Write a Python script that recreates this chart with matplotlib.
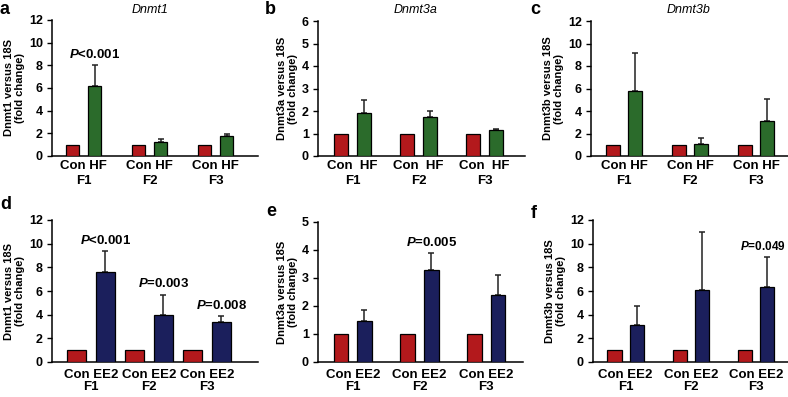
import numpy as np
import matplotlib
matplotlib.use("Agg")
import matplotlib.pyplot as plt

plt.rcParams['font.family'] = ['Liberation Sans', 'DejaVu Sans']
plt.rcParams['mathtext.fontset'] = 'custom'
plt.rcParams['mathtext.bfit'] = 'Liberation Sans:italic:bold'
plt.rcParams['mathtext.it'] = 'Liberation Sans:italic:bold'

# ---- data ----
generations = ['F1', 'F2', 'F3']

hf_con = [1, 1, 1]
hf_dnmt1 = [6.2, 1.25, 1.75]
hf_dnmt1_err = [1.8, 0.25, 0.2]
hf_dnmt3a = [1.9, 1.75, 1.15]
hf_dnmt3a_err = [0.6, 0.25, 0.03]
hf_dnmt3b = [5.8, 1.1, 3.1]
hf_dnmt3b_err = [3.4, 0.5, 2.0]

ee2_con = [1, 1, 1]
ee2_dnmt1 = [7.6, 4.0, 3.35]
ee2_dnmt1_err = [1.8, 1.7, 0.5]
ee2_dnmt3a = [1.45, 3.3, 2.4]
ee2_dnmt3a_err = [0.4, 0.6, 0.7]
ee2_dnmt3b = [3.1, 6.05, 6.3]
ee2_dnmt3b_err = [1.65, 4.95, 2.55]

pvals_a = ['<0.001', None, None]
pvals_d = ['<0.001', '=0.003', '=0.008']
pvals_e = [None, '=0.005', None]
pvals_f = [None, None, '=0.049']

RED = '#b3191c'
GREEN = '#2b6b2b'
NAVY = '#1b1f5c'

W, H = 788, 397
fig = plt.figure(figsize=(W / 100, H / 100), dpi=100)


def px_axes(left, right, top, bottom):
    return fig.add_axes([left / W, 1 - bottom / H, (right - left) / W, (bottom - top) / H])


panels = [
    # letter, gene, x label, vals, err, colour, ymax, ystep, rect, xlim, bar w, offset, pvals, row, letter pos
    ('a', 'Dnmt1', 'Con HF', hf_dnmt1, hf_dnmt1_err, GREEN, 12, 2, (52, 258, 20, 156), (-0.48, 2.64), 0.2, 0.167, pvals_a, 0, (0, 10)),
    ('b', 'Dnmt3a', 'Con  HF', hf_dnmt3a, hf_dnmt3a_err, GREEN, 6, 1, (318, 525, 21, 156), (-0.52, 2.61), 0.21, 0.175, None, 0, (265, 10)),
    ('c', 'Dnmt3b', 'Con HF', hf_dnmt3b, hf_dnmt3b_err, GREEN, 12, 2, (591, 788, 21, 156), (-0.5, 2.48), 0.21, 0.167, None, 0, (530, 10)),
    ('d', 'Dnmt1', 'Con EE2', ee2_dnmt1, ee2_dnmt1_err, NAVY, 12, 2, (52, 258, 220, 362), (-0.67, 2.88), 0.33, 0.25, pvals_d, 1, (0, 205)),
    ('e', 'Dnmt3a', 'Con EE2', ee2_dnmt3a, ee2_dnmt3a_err, NAVY, 5, 1, (318, 523, 222, 362), (-0.52, 2.55), 0.22, 0.176, pvals_e, 1, (266, 212)),
    ('f', 'Dnmt3b', 'Con EE2', ee2_dnmt3b, ee2_dnmt3b_err, NAVY, 12, 2, (593, 788, 220, 362), (-0.5, 2.49), 0.22, 0.17, pvals_f, 1, (531, 213)),
]

for letter, gene, xlab, vals, err, col, ymax, ystep, rect, xlim, bw, off, pv, row, lpos in panels:
    ax = px_axes(*rect)
    x = np.arange(len(generations))
    con = hf_con if row == 0 else ee2_con
    ax.bar(x - off, con, bw, color=RED, edgecolor='black', linewidth=0.9, zorder=3)
    ax.bar(x + off, vals, bw, color=col, edgecolor='black', linewidth=0.9, zorder=3)
    ax.errorbar(x + off, vals, yerr=[np.zeros(len(vals)), err], fmt='none',
                ecolor='#222222', elinewidth=1.1, capsize=2.5, capthick=1.1, zorder=2)

    ax.set_xlim(*xlim)
    ax.set_ylim(0, ymax)
    ax.set_yticks(np.arange(0, ymax + 0.1, ystep))
    ax.spines['top'].set_visible(False)
    ax.spines['right'].set_visible(False)
    ax.spines['left'].set_linewidth(1.1)
    ax.spines['bottom'].set_linewidth(1.1)
    ax.tick_params(axis='y', length=3.5, width=1, labelsize=9, pad=3)
    for t in ax.get_yticklabels():
        t.set_fontweight('bold')

    ax.set_xticks(x)
    ax.set_xticklabels([f'{xlab}\n{g}' for g in generations], fontsize=9.5,
                       fontweight='bold', linespacing=1.35 if row == 0 else 1.0)
    ax.tick_params(axis='x', length=0, pad=3 if row == 0 else 5)

    ax.set_ylabel(f'{gene} versus 18S\n(fold change)', fontsize=8,
                  fontweight='bold', labelpad=3, linespacing=1.05)

    if pv is not None:
        for xi, v, e, p in zip(x, vals, err, pv):
            if p:
                ax.annotate(f'$P${p}', (xi + off, v + e), xytext=(-3 if letter == 'f' else 0, 3),
                            textcoords='offset points', ha='center', va='bottom',
                            fontsize=8.5 if letter == 'f' else 9.5, fontweight='bold')

    # panel letter and gene title
    fig.text(lpos[0] / W, 1 - lpos[1] / H, letter, fontsize=13, fontweight='bold',
             va='center', ha='left')
    if row == 0:
        fig.text((rect[0] + 98) / W, 1 - 10 / H, gene, fontsize=9, style='italic',
                 va='center', ha='center')

fig.savefig('out.png', dpi=100)
